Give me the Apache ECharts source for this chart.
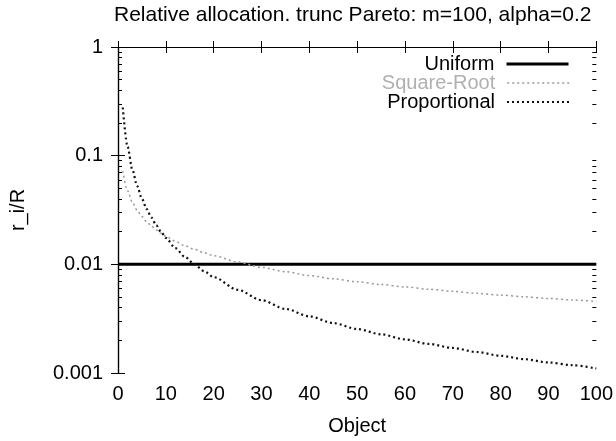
<!DOCTYPE html>
<html>
<head>
<meta charset="utf-8">
<script src="https://cdn.jsdelivr.net/npm/echarts@6/dist/echarts.min.js"></script>
<style>
html,body{margin:0;padding:0;background:#fff;}
#chart{width:616px;height:441px;}
</style>
</head>
<body>
<div id="chart"></div>
<script>
// ---- data ----
var titleText = 'Relative allocation. trunc Pareto: m=100, alpha=0.2';
var xName = 'Object';
var yName = 'r_i/R';
var seriesNames = ['Uniform', 'Square-Root', 'Proportional'];

var uniformX = [0, 100];
var uniformY = [0.01, 0.01];

var objectX = [1, 2, 3, 4, 5, 6, 7, 8, 9, 10, 12, 14, 16, 18, 20, 25, 30, 35, 40, 45, 50, 55, 60, 65, 70, 75, 80, 85, 90, 95, 100];
var sqrtY = [0.0722, 0.0476, 0.0373, 0.0314, 0.0275, 0.0246, 0.0225, 0.0207, 0.0193, 0.0181,
             0.0163, 0.0148, 0.0137, 0.0128, 0.0120, 0.0105, 0.00938, 0.00855, 0.00789, 0.00735,
             0.00691, 0.00652, 0.00619, 0.00590, 0.00564, 0.00541, 0.00521, 0.00502, 0.00485, 0.00470, 0.00455];
var propY = [0.2775, 0.1208, 0.0743, 0.0526, 0.0402, 0.0323, 0.0269, 0.0229, 0.0199, 0.0175,
             0.0141, 0.0117, 0.00997, 0.00865, 0.00762, 0.00583, 0.00468, 0.00389, 0.00332, 0.00288,
             0.00254, 0.00227, 0.00204, 0.00185, 0.00170, 0.00156, 0.00144, 0.00134, 0.00125, 0.00118, 0.00110];

var xTicks = [0, 10, 20, 30, 40, 50, 60, 70, 80, 90, 100];
var yDecades = [0.001, 0.01, 0.1, 1];
var minorMultipliers = [2, 3, 4, 5, 6, 7, 8, 9];

// ---- build ----
function pairs(xs, ys) { return xs.map(function (x, i) { return [x, ys[i]]; }); }
var minorLogPositions = [];
yDecades.slice(0, 3).forEach(function (d) {
  minorMultipliers.forEach(function (m) { minorLogPositions.push(Math.log10(d * m)); });
});

var FONT = 'Liberation Sans, Arial, Helvetica, sans-serif';
var chart = echarts.init(document.getElementById('chart'), null, {renderer: 'canvas'});

function legendFor(name, top, color, lineWidth) {
  return {
    data: [name], orient: 'vertical', align: 'right', right: 46, top: top,
    padding: 0, itemWidth: 62, itemHeight: 12, selectedMode: false,
    itemStyle: {opacity: 0, borderWidth: 0},
    lineStyle: {width: lineWidth},
    textStyle: {fontFamily: FONT, fontSize: 20, color: color, padding: [0, 7, 0, 0]}
  };
}

var option = {
  backgroundColor: '#fff',
  animation: false,
  title: {
    text: titleText, left: 114, top: 5, padding: 0,
    textStyle: {fontFamily: FONT, fontSize: 21, fontWeight: 'normal', color: '#000'}
  },
  legend: [
    legendFor(seriesNames[0], 54, '#000', 3),
    legendFor(seriesNames[1], 73, '#b0b0b0', 1.5),
    legendFor(seriesNames[2], 92, '#000', 2)
  ],
  grid: {left: 116, right: 19, top: 47, bottom: 67},
  xAxis: [
    {
      type: 'value', min: 0, max: 100, interval: 10, position: 'bottom',
      name: xName, nameLocation: 'middle', nameGap: 43,
      nameTextStyle: {fontFamily: FONT, fontSize: 20, color: '#000'},
      axisLine: {show: true, lineStyle: {color: '#000', width: 1.2}},
      axisTick: {show: true, inside: true, length: 6, lineStyle: {color: '#000'}},
      axisLabel: {fontFamily: FONT, fontSize: 20, color: '#000', margin: 11},
      splitLine: {show: false}
    },
    {
      type: 'value', min: 0, max: 100, interval: 10, position: 'top',
      axisLine: {show: true, lineStyle: {color: '#000', width: 1.2}},
      axisTick: {show: true, inside: true, length: 6, lineStyle: {color: '#000'}},
      axisLabel: {show: false}, splitLine: {show: false}
    }
  ],
  yAxis: [
    {
      type: 'log', logBase: 10, min: 0.001, max: 1, position: 'left',
      name: yName, nameLocation: 'middle', nameGap: 90, nameRotate: 90,
      nameTextStyle: {fontFamily: FONT, fontSize: 20, color: '#000'},
      axisLine: {show: true, lineStyle: {color: '#000', width: 1.2}},
      axisTick: {show: true, inside: true, length: 7, lineStyle: {color: '#000'}},
      axisLabel: {fontFamily: FONT, fontSize: 20, color: '#000', margin: 15,
        formatter: function (v) { return String(+v.toPrecision(3)); }},
      splitLine: {show: false}
    },
    {
      type: 'log', logBase: 10, min: 0.001, max: 1, position: 'right',
      axisLine: {show: true, lineStyle: {color: '#000', width: 1.2}},
      axisTick: {show: true, inside: true, length: 7, lineStyle: {color: '#000'}},
      axisLabel: {show: false}, splitLine: {show: false}
    },
    {
      type: 'value', min: -3, max: 0, position: 'left',
      axisLine: {show: false},
      axisTick: {show: true, inside: true, length: 4, customValues: minorLogPositions, lineStyle: {color: '#000'}},
      axisLabel: {show: false}, splitLine: {show: false}
    },
    {
      type: 'value', min: -3, max: 0, position: 'right',
      axisLine: {show: false},
      axisTick: {show: true, inside: true, length: 4, customValues: minorLogPositions, lineStyle: {color: '#000'}},
      axisLabel: {show: false}, splitLine: {show: false}
    }
  ],
  series: [
    {
      name: seriesNames[0], type: 'line', xAxisIndex: 0, yAxisIndex: 0,
      data: pairs(uniformX, uniformY), symbol: 'none', z: 3,
      color: '#000', lineStyle: {color: '#000', width: 3}
    },
    {
      name: seriesNames[1], type: 'line', xAxisIndex: 0, yAxisIndex: 0,
      data: pairs(objectX, sqrtY), symbol: 'none', smooth: 0.3, smoothMonotone: 'x',
      color: '#999', lineStyle: {color: '#999', width: 1.5, type: [2, 3]}
    },
    {
      name: seriesNames[2], type: 'line', xAxisIndex: 0, yAxisIndex: 0,
      data: pairs(objectX, propY), symbol: 'none', smooth: 0.3, smoothMonotone: 'x',
      color: '#111', lineStyle: {color: '#111', width: 2.2, type: [2, 3]}
    }
  ]
};
chart.setOption(option);
</script>
</body>
</html>
